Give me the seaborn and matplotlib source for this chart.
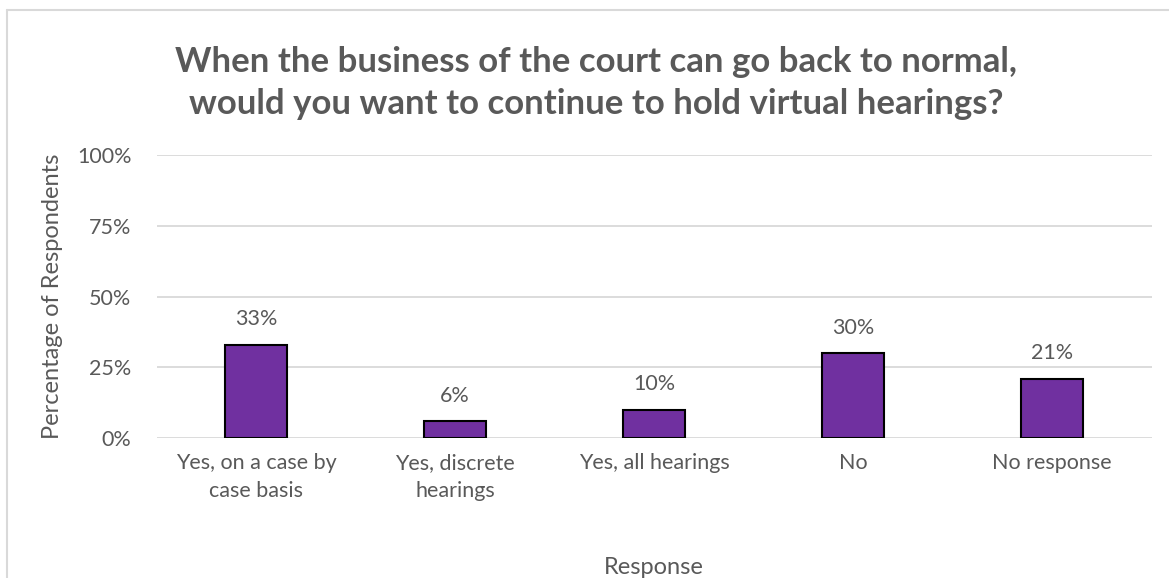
import matplotlib
matplotlib.use("Agg")
import matplotlib.pyplot as plt
import seaborn as sns
import pandas as pd
from matplotlib.lines import Line2D
from matplotlib.ticker import FuncFormatter

categories = ["Yes, on a case by\ncase basis", "Yes, discrete\nhearings", "Yes, all hearings", "No", "No response"]
values = [33, 6, 10, 30, 21]
yticks = [0, 25, 50, 75, 100]

title = "When the business of the court can go back to normal,\nwould you want to continue to hold virtual hearings?"

sns.set_theme(style="white")
plt.rcParams['font.family'] = ['Lato', 'DejaVu Sans']
TXT = "#595959"

fig = plt.figure(figsize=(11.69, 5.78), dpi=100)
ax = fig.add_axes([0.1339, 0.2422, 0.8512, 0.4896])

df = pd.DataFrame({"Response": categories, "Pct": values})
sns.barplot(data=df, x="Response", y="Pct", ax=ax, color="#7030A0", width=0.31,
            edgecolor="black", linewidth=1.5, saturation=1, zorder=3)

ax.set_ylim(0, 100)
ax.set_xlim(-0.5, len(categories) - 0.5)
ax.set_yticks(yticks)
ax.yaxis.set_major_formatter(FuncFormatter(lambda v, p: f"{int(v)}%"))
ax.grid(axis="y", color="#D9D9D9", linewidth=1.3, zorder=0)
ax.grid(axis="x", visible=False)
for s in ax.spines.values():
    s.set_visible(False)
ax.tick_params(axis="both", length=0, labelsize=15.5, labelcolor=TXT)
ax.tick_params(axis="x", pad=11)
ax.tick_params(axis="y", pad=18)
for lbl in ax.get_xticklabels():
    lbl.set_linespacing(1.5)

for i, v in enumerate(values):
    ax.annotate(f"{v}%", (i, v), xytext=(0, 11), textcoords="offset points",
                ha="center", va="bottom", fontsize=15.5, color=TXT)

ax.set_xlabel("Response", fontsize=17, color=TXT, labelpad=40)
ax.set_ylabel("Percentage of Respondents", fontsize=17, color=TXT, labelpad=10)

fig.text(0.51, 0.857, title, ha="center", va="center", fontsize=25, fontweight="bold",
         color=TXT, linespacing=1.38)

fig.add_artist(Line2D([7 / 1169, 7 / 1169], [0, 1 - 10 / 578], transform=fig.transFigure,
                      color="#D9D9D9", linewidth=1.5))
fig.add_artist(Line2D([7 / 1169, 1], [1 - 10 / 578, 1 - 10 / 578], transform=fig.transFigure,
                      color="#D9D9D9", linewidth=1.5))

fig.savefig("out.png", dpi=100)
